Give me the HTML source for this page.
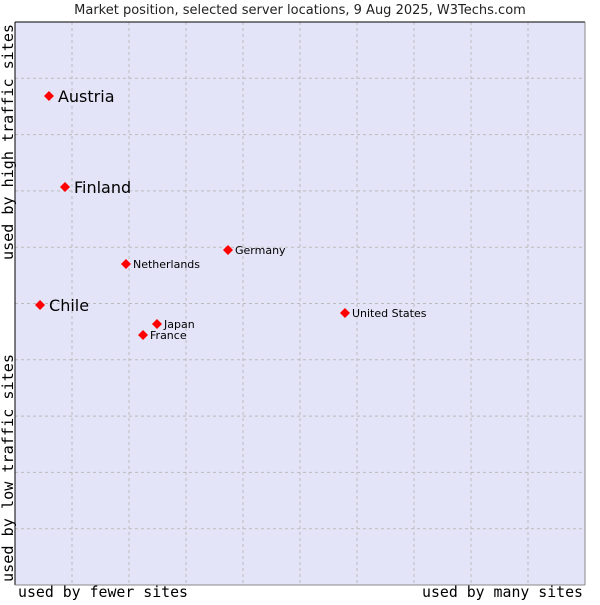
<!DOCTYPE html>
<html><head><meta charset="utf-8"><style>
body{margin:0;background:#fff;width:600px;height:600px;overflow:hidden}
svg{font-family:"DejaVu Sans","Liberation Sans",sans-serif}
.mono{font-family:"DejaVu Sans Mono","Liberation Mono",monospace}
</style></head><body>
<svg id="chart" width="600" height="600">
<text x="300" y="14" text-anchor="middle" font-size="13" fill="#222">Market position, selected server locations, 9 Aug 2025, W3Techs.com</text>
<rect x="15" y="22" width="570" height="563" fill="#e4e4f8"/>
<g id="grid"></g>
<line x1="15" y1="22" x2="585" y2="22" stroke="#000"/>
<line x1="15" y1="22" x2="15" y2="585" stroke="#000"/>
<line x1="585" y1="22" x2="585" y2="585" stroke="#888"/>
<line x1="15" y1="585" x2="585" y2="585" stroke="#888"/>
<g id="points"></g>
<text class="mono" x="18" y="597" font-size="15" textLength="170" lengthAdjust="spacingAndGlyphs" fill="#000">used by fewer sites</text>
<text class="mono" x="422" y="597" font-size="15" textLength="161" lengthAdjust="spacingAndGlyphs" fill="#000">used by many sites</text>
<text class="mono" transform="translate(13,582) rotate(-90)" font-size="15" textLength="228" lengthAdjust="spacingAndGlyphs" fill="#000">used by low traffic sites</text>
<text class="mono" transform="translate(13,260) rotate(-90)" font-size="15" textLength="236" lengthAdjust="spacingAndGlyphs" fill="#000">used by high traffic sites</text>
</svg>
<script>
const names=["Austria","Finland","Chile","Netherlands","Germany","Japan","France","United States"];
const xVals=[5.96,8.77,4.39,19.47,37.37,24.91,22.46,57.89];
const yVals=[86.86,70.69,49.73,57.02,59.5,46.36,44.4,48.31];
const bigLabel=[true,true,true,false,false,false,false,false];
const L=15,T=22,W=570,H=563;
const sx=v=>L+v/100*W, sy=v=>T+H-v/100*H;
const ns="http://www.w3.org/2000/svg";
const grid=document.getElementById('grid');
for(let i=1;i<10;i++){
 const v=document.createElementNS(ns,'line');
 v.setAttribute('x1',sx(i*10));v.setAttribute('x2',sx(i*10));v.setAttribute('y1',T);v.setAttribute('y2',T+H);
 v.setAttribute('stroke','#bbb');v.setAttribute('stroke-dasharray','3,3');
 
 
 grid.appendChild(v);
 const h=document.createElementNS(ns,'line');
 h.setAttribute('y1',sy(i*10));h.setAttribute('y2',sy(i*10));h.setAttribute('x1',L);h.setAttribute('x2',L+W);
 h.setAttribute('stroke','#bbb');h.setAttribute('stroke-dasharray','3,3');
 
 
 grid.appendChild(h);
}
const pts=document.getElementById('points');
names.forEach((n,i)=>{
 const x=sx(xVals[i]),y=sy(yVals[i]);
 const d=document.createElementNS(ns,'path');
 d.setAttribute('d',`M${x-5},${y}L${x},${y-5}L${x+5},${y}L${x},${y+5}Z`);
 d.setAttribute('fill','#f00');
 
 
 pts.appendChild(d);
 const t=document.createElementNS(ns,'text');
 t.setAttribute('x',x+(bigLabel[i]?9:7));t.setAttribute('y',y+(bigLabel[i]?6:4));
 t.setAttribute('font-size',bigLabel[i]?16:11);t.setAttribute('fill','#000');
 t.textContent=n;
 
 
 pts.appendChild(t);
});
</script>
</body></html>
